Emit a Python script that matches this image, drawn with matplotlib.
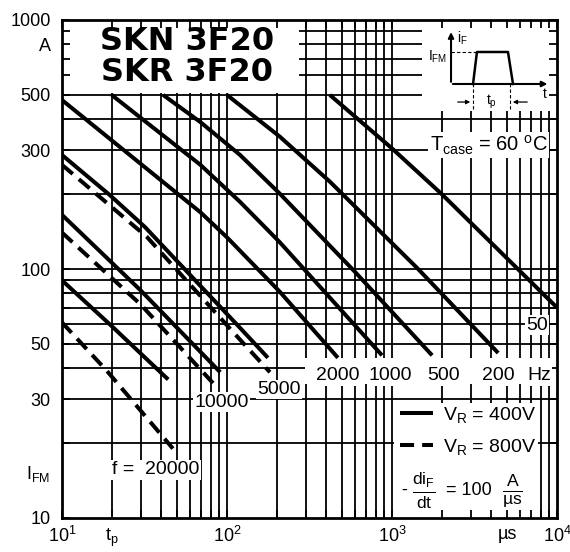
import numpy as np
import matplotlib
matplotlib.use("Agg")
import matplotlib.pyplot as plt
from matplotlib.patches import Rectangle
from matplotlib.transforms import blended_transform_factory

plt.rcParams['font.family'] = ['Liberation Sans', 'DejaVu Sans']
plt.rcParams['mathtext.fontset'] = 'custom'
plt.rcParams['mathtext.rm'] = 'Liberation Sans'
plt.rcParams['mathtext.it'] = 'Liberation Sans:italic'
plt.rcParams['mathtext.bf'] = 'Liberation Sans:bold'

# pulse width t_p (us) against peak current I_FM (A)
# V_R = 400 V, solid lines
tp_50 = [420, 1000, 2000, 5000, 10000]
ifm_50 = [500, 305, 200, 110, 70]
tp_200 = [100, 209, 421, 1440, 4400]
ifm_200 = [500, 340, 224, 100, 46]
tp_500 = [41, 69, 120, 210, 600, 1750]
ifm_500 = [500, 389, 287, 200, 97, 45]
tp_1000 = [20, 69, 120, 209, 870]
ifm_1000 = [500, 262, 186, 128, 45]
tp_2000 = [10, 69, 100, 209, 470]
ifm_2000 = [477, 169, 134, 81, 44]
tp_5000 = [10, 19.5, 31.8, 120, 177]
ifm_5000 = [287, 198, 147.5, 58, 44]
tp_10000 = [10, 30, 91]
ifm_10000 = [165, 82, 38.5]
tp_20000 = [10, 20, 44]
ifm_20000 = [90, 59, 36]
# V_R = 800 V, dashed lines
tp_5000_800 = [10, 32.7, 120, 182]
ifm_5000_800 = [262, 134.5, 52, 38.5]
tp_10000_800 = [10, 30, 85]
ifm_10000_800 = [140, 72, 34]
tp_20000_800 = [10, 18.7, 47]
ifm_20000_800 = [61, 39, 19]

x_ticks = [m * 10**e for e in (1, 2, 3) for m in range(1, 10)] + [10000]
x_labels = {10: r'$10^1$', 20: r'$\mathrm{t}_\mathrm{p}$', 100: r'$10^2$',
            1000: r'$10^3$', 5000: 'µs', 10000: r'$10^4$'}
y_ticks = [m * 10**e for e in (1, 2) for m in range(1, 10)] + [1000]
y_labels = {10: '10', 30: '30', 50: '50', 100: '100', 300: '300',
            500: '500', 800: 'A', 1000: '1000'}

fig = plt.figure(figsize=(5.70, 5.52), dpi=100)
ax = fig.add_axes([62/570, 34/552, 495/570, 498/552])
ax.set_xscale('log')
ax.set_yscale('log')
ax.set_xlim(10, 1e4)
ax.set_ylim(10, 1000)

# grid drawn by hand so the white boxes can hide it but not the ticks
ax.vlines(x_ticks[1:-1], 10, 1000, colors='k', lw=1.3, zorder=0.8)
ax.hlines(y_ticks[1:-1], 10, 1e4, colors='k', lw=1.3, zorder=0.8)

def blank(t0, t1, i0, i1):
    ax.add_patch(Rectangle((t0, i0), t1 - t0, i1 - i0, facecolor='white',
                           edgecolor='none', zorder=1))

blank(10, 275, 510, 1000)     # type designation
blank(1520, 1e4, 430, 1000)   # pulse sketch
blank(1030, 7700, 10, 29)     # legend
blank(297, 1e4, 34.5, 44)     # frequency row

ax.set_xticks(x_ticks, [x_labels.get(t, '') for t in x_ticks])
ax.set_yticks(y_ticks, [y_labels.get(t, '') for t in y_ticks])
ax.minorticks_off()
ax.tick_params(direction='in', length=6, width=1.3, top=True, right=True,
               labelsize=13, colors='k')
ax.tick_params(axis='x', pad=6)
ax.tick_params(axis='y', pad=8)
for sp in ax.spines.values():
    sp.set_linewidth(2)

kw = dict(color='k', lw=2.9, solid_capstyle='butt', dash_capstyle='butt',
          solid_joinstyle='round', zorder=3)
for t, i in [(tp_50, ifm_50), (tp_200, ifm_200), (tp_500, ifm_500),
             (tp_1000, ifm_1000), (tp_2000, ifm_2000), (tp_5000, ifm_5000),
             (tp_10000, ifm_10000), (tp_20000, ifm_20000)]:
    h_solid, = ax.plot(t, i, **kw)
for t, i in [(tp_5000_800, ifm_5000_800), (tp_10000_800, ifm_10000_800),
             (tp_20000_800, ifm_20000_800)]:
    h_dash, = ax.plot(t, i, dashes=(3.5, 2), **kw)

lab = dict(fontsize=14, ha='center', va='center', zorder=2,
           bbox=dict(facecolor='white', edgecolor='none', pad=1))
ax.text(471, 37.3, '2000', **lab)
ax.text(981, 37.3, '1000', **lab)
ax.text(2060, 37.3, '500', **lab)
ax.text(4390, 37.3, '200', **lab)
ax.text(7800, 37.3, 'Hz', **lab)
ax.text(207, 32.8, '5000', **lab)
ax.text(93, 29.2, '10000', **lab)
ax.text(37, 15.6, 'f =  20000', **lab)
ax.text(7540, 59.5, '50', **lab)
lab['fontsize'] = 14.5
ax.text(3850, 315, r'$\mathrm{T}_\mathrm{case}$ = 60 $^\mathrm{o}$C', **lab)

ax.text(0.2525, 0.956, 'SKN 3F20', transform=ax.transAxes, family='DejaVu Sans',
        weight='bold', fontsize=23, ha='center', va='center')
ax.text(0.2525, 0.894, 'SKR 3F20', transform=ax.transAxes, family='DejaVu Sans',
        weight='bold', fontsize=23, ha='center', va='center')

ax.text(-0.024, 15, r'$\mathrm{I}_\mathrm{FM}$', ha='right', va='center', fontsize=13,
        transform=blended_transform_factory(ax.transAxes, ax.transData))

leg = ax.legend([h_solid, h_dash],
                [r'$\mathrm{V}_\mathrm{R}$ = 400V', r'$\mathrm{V}_\mathrm{R}$ = 800V'],
                loc='upper left', bbox_to_anchor=((400 - 62) / 495, (518 - 405) / 498),
                frameon=False, fontsize=14, handlelength=1.7, handletextpad=0.5,
                labelspacing=0.6, borderaxespad=0, borderpad=0)
leg.set_zorder(4)

# -diF/dt = 100 A/us, built from pieces so the fractions keep full size
fr = dict(xy=(2850, 12.9), textcoords='offset points', ha='center', va='center', zorder=4)
ax.annotate('-', xytext=(-45, 0), fontsize=13, **fr)
ax.annotate(r'$\frac{\mathrm{di}_\mathrm{F}}{\mathrm{dt}}$', xytext=(-31, 0), fontsize=18, **fr)
ax.annotate('= 100', xytext=(1, 0), fontsize=13, **fr)
ax.annotate(r'$\frac{\mathrm{A}}{\mathrm{µs}}$', xytext=(33, 0), fontsize=18, **fr)

# pulse sketch in the top right corner
iax = fig.add_axes([422/570, (552 - 113)/552, 135/570, 93/552])
iax.set_xlim(0, 1)
iax.set_ylim(0, 1)
iax.axis('off')
pulse_u = [0.378, 0.407, 0.637, 0.674]
pulse_v = [0.312, 0.656, 0.656, 0.312]
iax.plot(pulse_u, pulse_v, color='k', lw=1.8)
arr = dict(arrowstyle='-|>', color='k', lw=1.5, mutation_scale=8)
iax.annotate('', xy=(0.215, 0.9), xytext=(0.215, 0.305), arrowprops=arr)
iax.annotate('', xy=(0.95, 0.312), xytext=(0.208, 0.312), arrowprops=arr)
iax.plot([0.215, 0.407], [0.656, 0.656], color='k', lw=0.8, dashes=(3, 2))
iax.vlines([0.378, 0.652], 0.04, 0.312, color='k', lw=0.8, linestyles=(0, (3, 2)))
arr2 = dict(arrowstyle='-|>', color='k', lw=0.9, mutation_scale=6)
iax.annotate('', xy=(0.378, 0.118), xytext=(0.244, 0.118), arrowprops=arr2)
iax.annotate('', xy=(0.652, 0.118), xytext=(0.8, 0.118), arrowprops=arr2)
iax.text(0.26, 0.80, r'$\mathrm{i}_\mathrm{F}$', fontsize=10, ha='left', va='center')
iax.text(0.19, 0.60, r'$\mathrm{I}_\mathrm{FM}$', fontsize=10, ha='right', va='center')
iax.text(0.91, 0.2, 't', fontsize=10, ha='center', va='center')
iax.text(0.515, 0.118, r'$\mathrm{t}_\mathrm{p}$', fontsize=10, ha='center', va='center')

fig.savefig('out.png', dpi=100)
